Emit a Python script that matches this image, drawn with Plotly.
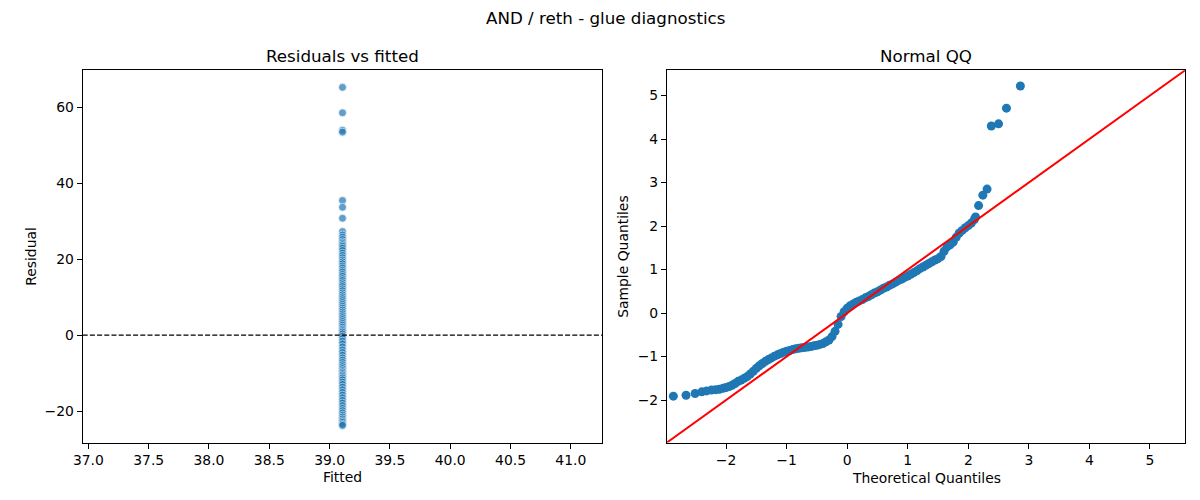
import plotly.graph_objects as go

# ---------------- data ----------------
fitted_value = 39.107

residuals = [65.3, 58.6, 54.0, 53.5, 35.5, 33.7, 30.8, 27.3, 26.4, 25.8, 25.2, 24.6,
             24.2, 23.8, 23.4, 22.9, 22.3, 21.6, 21.0, 20.4, 19.8, 19.3, 18.8, 18.2,
             17.7, 17.1, 16.6, 16.0, 15.5, 14.9, 14.4, 13.8, 13.3, 12.8, 12.2, 11.7,
             11.1, 10.6, 10.1, 9.6, 9.1, 8.6, 8.1, 7.6, 7.1, 6.6, 6.1, 5.6, 5.1, 4.6,
             4.1, 3.6, 3.1, 2.6, 2.1, 1.6, 1.2, 0.8, 0.3, -0.3, -0.9, -1.6, -2.3, -3.1,
             -3.9, -4.6, -5.3, -6.0, -6.6, -7.2, -7.8, -8.3, -8.8, -9.3, -9.7, -10.1,
             -10.5, -10.9, -11.3, -11.8, -12.4, -13.0, -13.7, -14.4, -15.1, -15.8,
             -16.5, -17.2, -17.9, -18.6, -19.3, -19.9, -20.5, -21.1, -21.6, -22.1,
             -22.6, -23.0, -23.5, -23.8]

qq_theoretical = [-2.87, -2.66, -2.51, -2.40, -2.32, -2.24, -2.17, -2.11, -2.05, -2.00,
                  -1.95, -1.90, -1.85, -1.80, -1.75, -1.70, -1.65, -1.60, -1.55, -1.50,
                  -1.45, -1.40, -1.35, -1.30, -1.25, -1.20, -1.15, -1.10, -1.05, -1.00,
                  -0.95, -0.90, -0.85, -0.80, -0.75, -0.70, -0.65, -0.60, -0.55, -0.50,
                  -0.45, -0.40, -0.35, -0.30, -0.25, -0.20, -0.15, -0.10, -0.05, 0.00,
                  0.05, 0.10, 0.15, 0.20, 0.25, 0.30, 0.35, 0.40, 0.45, 0.50,
                  0.55, 0.60, 0.65, 0.70, 0.75, 0.80, 0.85, 0.90, 0.95, 1.00,
                  1.05, 1.10, 1.15, 1.20, 1.25, 1.30, 1.35, 1.40, 1.45, 1.50,
                  1.55, 1.60, 1.65, 1.70, 1.75, 1.80, 1.85, 1.90, 1.95, 2.00,
                  2.05, 2.10, 2.12, 2.17, 2.24, 2.31, 2.38, 2.50, 2.63, 2.86]

qq_sample = [-1.91, -1.89, -1.85, -1.81, -1.79, -1.77, -1.76, -1.75, -1.73, -1.71,
             -1.69, -1.66, -1.62, -1.57, -1.54, -1.50, -1.46, -1.40, -1.34, -1.27,
             -1.21, -1.16, -1.11, -1.07, -1.03, -0.99, -0.96, -0.93, -0.90, -0.88,
             -0.86, -0.84, -0.82, -0.81, -0.80, -0.79, -0.78, -0.77, -0.75, -0.74,
             -0.72, -0.70, -0.66, -0.62, -0.54, -0.42, -0.26, -0.08, 0.03, 0.11,
             0.17, 0.21, 0.25, 0.28, 0.31, 0.35, 0.38, 0.42, 0.46, 0.49,
             0.53, 0.57, 0.60, 0.64, 0.67, 0.71, 0.75, 0.78, 0.82, 0.85,
             0.89, 0.93, 0.97, 1.02, 1.06, 1.10, 1.14, 1.18, 1.22, 1.25,
             1.30, 1.42, 1.52, 1.57, 1.63, 1.74, 1.84, 1.90, 1.96, 2.01,
             2.07, 2.15, 2.21, 2.47, 2.71, 2.85, 4.30, 4.35, 4.71, 5.22]

left_x_ticks = [37.0, 37.5, 38.0, 38.5, 39.0, 39.5, 40.0, 40.5, 41.0]
left_y_ticks = [-20, 0, 20, 40, 60]
qq_ticks = [-2, -1, 0, 1, 2, 3, 4, 5]

# ---------------- layout constants ----------------
W, H = 1200, 500
FONT = "DejaVu Sans"
BLUE = "#1f77b4"

def px_x(p):
    return p / W

def px_y(p):
    return 1 - p / H

left_dom = [px_x(73.3), px_x(597.3)]
right_dom = [px_x(662.5), px_x(1185.0)]
y_dom = [px_y(442.5), px_y(70.3)]

left_xrange = [36.953, 41.261]
left_yrange = [-28.3, 69.8]
qq_range = [-2.975, 5.58]

fig = go.Figure()

fig.add_trace(go.Scatter(
    x=[fitted_value] * len(residuals), y=residuals, mode="markers",
    marker=dict(size=8, color=BLUE, opacity=0.7,
                line=dict(color="white", width=0.8)),
    xaxis="x", yaxis="y", showlegend=False, hoverinfo="skip"))

fig.add_trace(go.Scatter(
    x=qq_theoretical, y=qq_sample, mode="markers",
    marker=dict(size=9, color=BLUE, line=dict(width=0)),
    xaxis="x2", yaxis="y2", showlegend=False, hoverinfo="skip"))

fig.add_trace(go.Scatter(
    x=qq_range, y=qq_range, mode="lines",
    line=dict(color="red", width=2),
    xaxis="x2", yaxis="y2", showlegend=False, hoverinfo="skip"))

axis_common = dict(
    showline=True, mirror=True, linecolor="black", linewidth=1,
    ticks="outside", ticklen=5, tickwidth=1, tickcolor="black",
    showgrid=False, zeroline=False,
    tickfont=dict(family=FONT, size=13.9, color="black"),
)

fig.update_layout(
    width=W, height=H,
    margin=dict(l=0, r=0, t=0, b=0),
    paper_bgcolor="white", plot_bgcolor="white",
    font=dict(family=FONT, color="black"),
    xaxis=dict(domain=left_dom, range=left_xrange, tickvals=left_x_ticks,
               tickformat=".1f", anchor="y", **axis_common),
    yaxis=dict(domain=y_dom, range=left_yrange, tickvals=left_y_ticks,
               anchor="x", **axis_common),
    xaxis2=dict(domain=right_dom, range=qq_range, tickvals=qq_ticks,
                anchor="y2", **axis_common),
    yaxis2=dict(domain=y_dom, range=qq_range, tickvals=qq_ticks,
                anchor="x2", **axis_common),
    shapes=[dict(type="line", xref="x domain", yref="y", x0=0, x1=1, y0=0, y1=0,
                 line=dict(color="black", width=1.3, dash="5px,2.2px"))],
)

def ann(text, x, y, size, angle=0):
    return dict(text=text, x=px_x(x), y=px_y(y), xref="paper", yref="paper",
                xanchor="center", yanchor="middle", showarrow=False,
                textangle=angle, font=dict(family=FONT, size=size, color="black"))

fig.update_layout(annotations=[
    ann("AND / reth - glue diagnostics", 600, 18, 16.7),
    ann("Residuals vs fitted", 335.3, 56, 16.7),
    ann("Normal QQ", 923.8, 56, 16.7),
    ann("Fitted", 335.3, 477, 13.9),
    ann("Theoretical Quantiles", 923.8, 478, 13.9),
    ann("Residual", 21, 256, 13.9, -90),
    ann("Sample Quantiles", 618, 256, 13.9, -90),
])

fig.write_html("out.html",
               config={"displayModeBar": False},
               post_script="document.body.style.margin='0';document.body.style.overflow='hidden';")
